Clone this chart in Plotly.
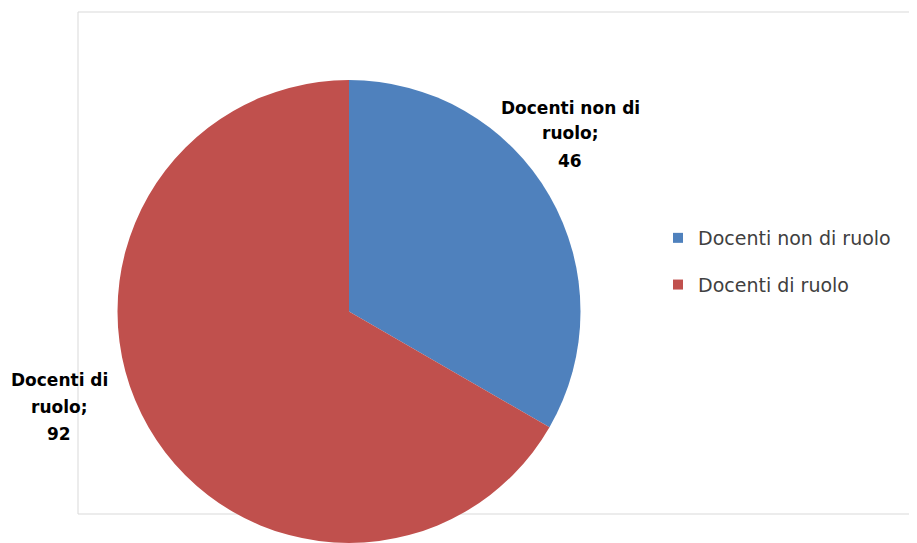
import plotly.graph_objects as go

labels = ["Docenti non di ruolo", "Docenti di ruolo"]
values = [46, 92]
colors = ["#4F81BD", "#C0504D"]
label_lines = [["Docenti non di", "ruolo;"], ["Docenti di", "ruolo;"]]

# the page body has an 8px margin; work in figure coordinates
OFF = 8
W, H = 917 - OFF, 543 - OFF

def fx(px):
    return (px - OFF) / W

def fy(py):
    return 1 - (py - OFF) / H

fig = go.Figure()
fig.add_trace(go.Pie(
    labels=labels, values=values,
    marker=dict(colors=colors, line=dict(width=0)),
    sort=False, direction="clockwise", rotation=0,
    textinfo="none", hoverinfo="label+value", showlegend=False,
    domain=dict(x=[fx(117), fx(581)], y=[0, fy(80)]),
))

# legend entries (one group per category so the spacing can be set)
for lab, col in zip(labels, colors):
    fig.add_trace(go.Scatter(
        x=[None], y=[None], mode="markers", name=lab, legendgroup=lab,
        marker=dict(symbol="square", size=10, color=col),
        hoverinfo="skip",
    ))

# data labels as annotations, one per line
label_pos = [(570, [108, 133, 161]), (59, [380, 407, 434])]
for (lx, ys), lines, v in zip(label_pos, label_lines, values):
    for ly, txt in zip(ys, lines + [str(v)]):
        fig.add_annotation(
            x=fx(lx), y=fy(ly), xref="paper", yref="paper",
            text="<b>" + txt + "</b>",
            showarrow=False, align="center", xanchor="center", yanchor="middle",
            font=dict(family="DejaVu Sans", size=17, color="#000000"),
        )

# chart area border
fig.add_shape(type="rect", xref="paper", yref="paper",
              x0=fx(78), x1=1.02, y0=fy(514), y1=fy(12),
              line=dict(color="#D9D9D9", width=1), layer="below")

fig.update_layout(
    width=W, height=H,
    margin=dict(l=0, r=0, t=0, b=0),
    paper_bgcolor="white", plot_bgcolor="white",
    xaxis=dict(visible=False), yaxis=dict(visible=False),
    showlegend=True,
    legend=dict(x=fx(658), y=fy(261.5), xanchor="left", yanchor="middle",
                tracegroupgap=19,
                font=dict(family="DejaVu Sans", size=19, color="#404040"),
                bgcolor="rgba(0,0,0,0)"),
)

fig.write_html("out.html")
